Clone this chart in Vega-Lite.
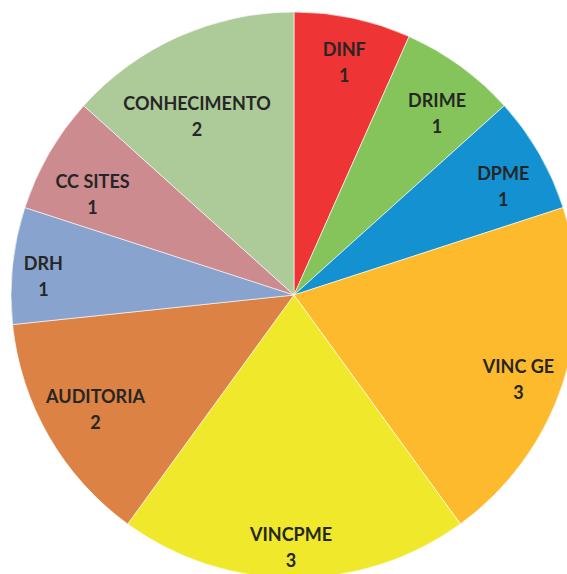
{
  "$schema": "https://vega.github.io/schema/vega-lite/v6.json",
  "width": 588,
  "height": 590,
  "autosize": "none",
  "padding": 0,
  "background": "white",
  "config": {
    "view": {"stroke": null},
    "text": {"font": "Lato", "fontWeight": "bold", "fontSize": 18, "fill": "#262626", "lineBreak": "\n", "lineHeight": 26, "align": "center", "baseline": "middle"}
  },
  "data": {"values": [
    {"cat": "DINF", "value": 1, "ord": 1},
    {"cat": "DRIME", "value": 1, "ord": 2},
    {"cat": "DPME", "value": 1, "ord": 3},
    {"cat": "VINC GE", "value": 3, "ord": 4},
    {"cat": "VINCPME", "value": 3, "ord": 5},
    {"cat": "AUDITORIA", "value": 2, "ord": 6},
    {"cat": "DRH", "value": 1, "ord": 7},
    {"cat": "CC SITES", "value": 1, "ord": 8},
    {"cat": "CONHECIMENTO", "value": 2, "ord": 9}
  ]},
  "transform": [
    {"stack": "value", "groupby": [], "sort": [{"field": "ord", "order": "ascending"}], "as": ["v0", "v1"]},
    {"calculate": "(datum.v0 + datum.v1) / 2", "as": "mid"},
    {"calculate": "datum.cat + '\\n' + datum.value", "as": "lbl"}
  ],
  "encoding": {
    "text": {"field": "lbl"}
  },
  "layer": [
    {
      "mark": {"type": "arc", "outerRadius": 283, "stroke": "white", "strokeWidth": 0.6},
      "encoding": {
        "theta": {"field": "v0", "type": "quantitative", "scale": {"domain": [0, 15]}},
        "theta2": {"field": "v1"},
        "text": null,
        "color": {
          "field": "cat", "type": "nominal", "legend": null,
          "scale": {
            "domain": ["DINF", "DRIME", "DPME", "VINC GE", "VINCPME", "AUDITORIA", "DRH", "CC SITES", "CONHECIMENTO"],
            "range": ["#EE3434", "#84C45A", "#1391D0", "#FDBA2C", "#EFE82B", "#DB8244", "#88A3CD", "#CC8B8E", "#ADCA99"]
          }
        }
      }
    },
    {
      "transform": [{"filter": "datum.cat == 'DINF'"}],
      "mark": {"type": "text", "radius": 237, "dx": 1, "dy": -12.5},
      "encoding": {"theta": {"field": "mid", "type": "quantitative", "scale": {"domain": [0, 15]}}}
    },
    {
      "transform": [{"filter": "datum.cat == 'DRIME'"}],
      "mark": {"type": "text", "radius": 228, "dx": 9, "dy": -8.5},
      "encoding": {"theta": {"field": "mid", "type": "quantitative", "scale": {"domain": [0, 15]}}}
    },
    {
      "transform": [{"filter": "datum.cat == 'DPME'"}],
      "mark": {"type": "text", "radius": 237, "dx": 4, "dy": -1.5},
      "encoding": {"theta": {"field": "mid", "type": "quantitative", "scale": {"domain": [0, 15]}}}
    },
    {
      "transform": [{"filter": "datum.cat == 'VINC GE'"}],
      "mark": {"type": "text", "radius": 237, "dx": -1, "dy": -0.5},
      "encoding": {"theta": {"field": "mid", "type": "quantitative", "scale": {"domain": [0, 15]}}}
    },
    {
      "transform": [{"filter": "datum.cat == 'VINCPME'"}],
      "mark": {"type": "text", "radius": 252, "dx": -3, "dy": -11.5},
      "encoding": {"theta": {"field": "mid", "type": "quantitative", "scale": {"domain": [0, 15]}}}
    },
    {
      "transform": [{"filter": "datum.cat == 'AUDITORIA'"}],
      "mark": {"type": "text", "radius": 228, "dx": -1, "dy": -11.5},
      "encoding": {"theta": {"field": "mid", "type": "quantitative", "scale": {"domain": [0, 15]}}}
    },
    {
      "transform": [{"filter": "datum.cat == 'DRH'"}],
      "mark": {"type": "text", "radius": 252, "dx": 0, "dy": -3.5},
      "encoding": {"theta": {"field": "mid", "type": "quantitative", "scale": {"domain": [0, 15]}}}
    },
    {
      "transform": [{"filter": "datum.cat == 'CC SITES'"}],
      "mark": {"type": "text", "radius": 228, "dx": -4, "dy": 1.5},
      "encoding": {"theta": {"field": "mid", "type": "quantitative", "scale": {"domain": [0, 15]}}}
    },
    {
      "transform": [{"filter": "datum.cat == 'CONHECIMENTO'"}],
      "mark": {"type": "text", "radius": 204, "dx": -14, "dy": -3.5},
      "encoding": {"theta": {"field": "mid", "type": "quantitative", "scale": {"domain": [0, 15]}}}
    }
  ]
}
